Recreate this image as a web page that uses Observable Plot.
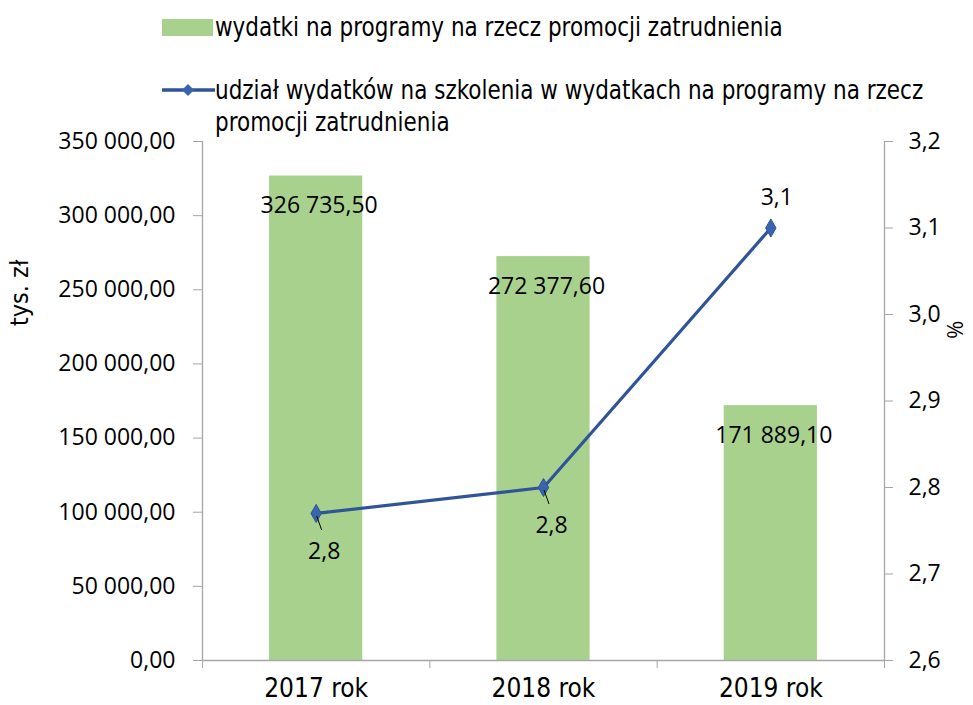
<!DOCTYPE html>
<html>
<head>
<meta charset="utf-8">
<script src="https://cdn.jsdelivr.net/npm/d3@7"></script>
<script src="https://cdn.jsdelivr.net/npm/@observablehq/plot@0.6"></script>
<style>
  body { margin: 0; background: #fff; }
  #wrap { position: relative; width: 973px; height: 705px; overflow: hidden; }
  #legend { position: relative; height: 128px; z-index: 2; font-family: "Liberation Sans Narrow", "DejaVu Sans Condensed", sans-serif; font-size: 27px; color: #000; }
  .sw { position: absolute; }
  .lt { position: absolute; line-height: 32px; white-space: nowrap; transform: scaleX(0.886); transform-origin: 0 0; }
  #chart { position: relative; z-index: 1; }
</style>
</head>
<body>
<div id="wrap">
  <div id="legend">
    <div class="sw" style="left:162px;top:19px;width:51px;height:17px;background:#a9d18e"></div>
    <div class="lt" style="left:215px;top:11px">wydatki na programy na rzecz promocji zatrudnienia</div>
    <svg class="sw" style="left:162px;top:82px" width="54" height="16">
      <line x1="0" y1="8" x2="53" y2="8" stroke="#2f5597" stroke-width="3.5"></line>
      <path d="M26,2 L32,8 L26,14 L20,8 Z" fill="#3a64ad"></path>
    </svg>
    <div class="lt" style="left:215px;top:74px">udział wydatków na szkolenia w wydatkach na programy na rzecz<br>promocji zatrudnienia</div>
  </div>
  <div id="chart"></div>
</div>
<script>
// ---- data ----
const categories = ["2017 rok", "2018 rok", "2019 rok"];
const expenditure = [326735.50, 272377.60, 171889.10];           // tys. zł
const trainingShare = [2.77, 2.80, 3.10];                        // %
const shareLabels = ["2,8", "2,8", "3,1"];
const leftTicks = [0, 50000, 100000, 150000, 200000, 250000, 300000, 350000];
const rightTicks = [2.6, 2.7, 2.8, 2.9, 3.0, 3.1, 3.2];

// ---- scales helpers ----
const leftMax = 350000, rightMin = 2.6, rightMax = 3.2;
const toLeft = v => (v - rightMin) / (rightMax - rightMin) * leftMax;
const fromLeft = v => v / leftMax * (rightMax - rightMin) + rightMin;

const pl = d3.formatLocale({decimal: ",", thousands: "\u00a0", grouping: [3], currency: ["", ""]});
const fmtMoney = pl.format(",.2f");
const fmtPct = pl.format(".1f");

const rows = categories.map((c, i) => ({
  cat: c, mid: i + 0.5, exp: expenditure[i],
  shareY: toLeft(trainingShare[i]), label: shareLabels[i]
}));

const numFont = "Open Sans, Noto Sans, sans-serif";
const condFont = "Liberation Sans Narrow, DejaVu Sans Condensed, sans-serif";
const axisColor = "#a6a6a6";
const halfBar = 0.205;

const chart = Plot.plot({
  width: 973,
  height: 577,
  marginTop: 13,
  marginBottom: 45,
  marginLeft: 202,
  marginRight: 89,
  style: {fontFamily: numFont, fontSize: "23px", color: "#000", background: "transparent", overflow: "visible"},
  x: {type: "linear", domain: [0, categories.length]},
  y: {domain: [0, leftMax]},
  marks: [
    Plot.rectY(rows, {x1: d => d.mid - halfBar, x2: d => d.mid + halfBar, y: "exp", fill: "#a9d18e"}),
    Plot.ruleX([0, categories.length], {stroke: axisColor, strokeWidth: 1.3}),
    Plot.ruleY([0], {stroke: axisColor, strokeWidth: 1.3}),
    Plot.axisY({anchor: "left", ticks: leftTicks, tickSize: 9, tickPadding: 18, tickFormat: fmtMoney,
      stroke: axisColor, label: null, fontFamily: numFont, fontSize: 23}),
    Plot.axisY({anchor: "right", ticks: rightTicks.map(toLeft), tickSize: 8, tickPadding: 16,
      tickFormat: v => fmtPct(fromLeft(v)), stroke: axisColor, label: null, fontFamily: numFont, fontSize: 23}),
    Plot.axisX({ticks: d3.range(categories.length + 1), tickSize: 8, tickFormat: () => "", stroke: axisColor, label: null}),
    Plot.axisX({ticks: rows.map(d => d.mid), tickSize: 0, tickPadding: 18, tickFormat: v => categories[Math.floor(v)],
      label: null, fontFamily: condFont, fontSize: 26}),
    Plot.text(rows, {x: "mid", y: "exp", text: d => fmtMoney(d.exp), dx: 3, dy: 30, fontFamily: numFont, fontSize: 23, fill: "#000"}),
    Plot.line(rows, {x: "mid", y: "shareY", stroke: "#2f5597", strokeWidth: 3.2}),
    Plot.dot(rows, {x: "mid", y: "shareY", symbol: "diamond", r: 5.5, fill: "#3a64ad", stroke: "#2f5597", strokeWidth: 1}),
    Plot.text(rows.slice(0, 2), {x: "mid", y: "shareY", text: "label", dx: 8, dy: 38, fontFamily: numFont, fontSize: 23, fill: "#000"}),
    Plot.text(rows.slice(2), {x: "mid", y: "shareY", text: "label", dx: 6, dy: -30, fontFamily: numFont, fontSize: 23, fill: "#000"}),
    Plot.text(["tys. zł"], {frameAnchor: "left", dx: -183, dy: -75, rotate: -90, fontFamily: condFont, fontSize: 25, fill: "#000"}),
    Plot.text(["%"], {frameAnchor: "right", dx: 70, dy: -62, rotate: 90, fontFamily: numFont, fontSize: 22, fill: "#000"})
  ]
});

// leader lines for the two lower line labels, positioned through Plot's scales
const sx = chart.scale("x"), sy = chart.scale("y");
const svg = d3.select(chart);
rows.slice(0, 2).forEach(d => {
  const X = sx.apply(d.mid), Y = sy.apply(d.shareY);
  svg.append("line").attr("x1", X + 1).attr("y1", Y + 3).attr("x2", X + 6).attr("y2", Y + 17)
    .attr("stroke", "#000").attr("stroke-width", 1);
});

document.getElementById("chart").appendChild(chart);
</script>
</body>
</html>
